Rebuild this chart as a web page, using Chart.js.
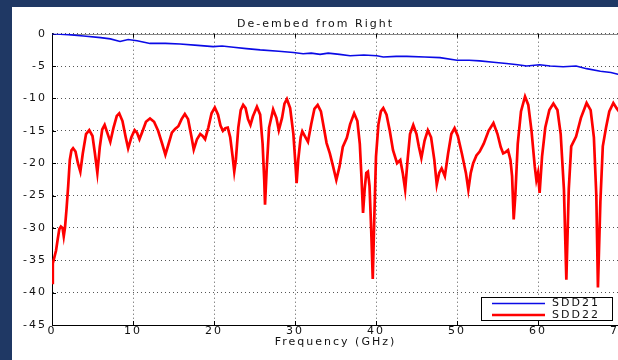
<!DOCTYPE html>
<html>
<head>
<meta charset="utf-8">
<script src="https://cdn.jsdelivr.net/npm/chart.js@4.4.0/dist/chart.umd.min.js"></script>
<style>
  html, body { margin: 0; padding: 0; width: 618px; height: 360px; overflow: hidden; background: #1f3864; }
  #wrap { position: absolute; left: 12px; top: 7px; width: 630px; height: 353px; background: #fff; }
</style>
</head>
<body>
<div id="wrap"><canvas id="chart"></canvas></div>
<script>
// SDD21 (insertion loss)
const sdd21Freq = [0, 2, 3.9, 6, 7.2, 8.4, 9.4, 10.5, 12.1, 14, 15.8, 18, 19.9, 21, 22.4, 24, 25.7, 28, 29.8,
  31, 32, 33.1, 34.1, 35.5, 36.8, 38.5, 40.1, 40.9, 42.5, 43.8, 46, 47.9, 50, 51.5, 52.8, 54.5, 56.1,
  57.5, 58.6, 60.2, 61.5, 63.1, 64.7, 66, 67.7, 69, 70];
const sdd21 = [0, -0.15, -0.35, -0.6, -0.8, -1.2, -0.9, -1.1, -1.5, -1.5, -1.6, -1.8, -2.0, -1.9, -2.1, -2.3, -2.5, -2.7, -2.9,
  -3.1, -3.0, -3.2, -3.0, -3.2, -3.4, -3.3, -3.4, -3.6, -3.5, -3.5, -3.6, -3.7, -4.1, -4.1, -4.2, -4.4, -4.6,
  -4.8, -5.0, -4.8, -5.0, -5.1, -5.0, -5.4, -5.8, -6.0, -6.3];

// SDD22 (return loss)
const sdd22Freq = [0, 0.1, 0.3, 0.5, 0.7, 0.9, 1.1, 1.3, 1.45, 1.6, 1.8, 2.0, 2.2, 2.4, 2.6, 2.9, 3.2, 3.5, 3.8,
  4.2, 4.6, 5.0, 5.3, 5.6, 5.9, 6.2, 6.5, 6.8, 7.2, 7.6, 8.0, 8.3, 8.7, 9.1, 9.4, 9.8, 10.2, 10.5, 10.8,
  11.2, 11.6, 12.1, 12.6, 13.1, 13.6, 14.0, 14.4, 14.8, 15.2, 15.6, 16.0, 16.4, 16.8, 17.2, 17.5, 17.9,
  18.3, 18.6, 18.9, 19.3, 19.7, 20.1, 20.5, 20.8, 21.1, 21.4, 21.7, 22.0, 22.3, 22.5, 22.7, 23.0, 23.3,
  23.6, 23.9, 24.2, 24.5, 24.8, 25.3, 25.7, 26.0, 26.2, 26.3, 26.5, 26.8, 27.3, 27.7, 28.0, 28.4, 28.7,
  29.0, 29.4, 29.8, 30.1, 30.2, 30.4, 30.7, 30.9, 31.2, 31.6, 32.0, 32.4, 32.8, 33.2, 33.6, 33.9, 34.3,
  34.7, 35.1, 35.5, 35.9, 36.4, 36.8, 37.3, 37.7, 38.0, 38.2, 38.4, 38.6, 38.8, 39.0, 39.2, 39.4, 39.6,
  39.8, 40.0, 40.3, 40.6, 40.9, 41.3, 41.7, 42.1, 42.6, 43.0, 43.3, 43.6, 43.9, 44.2, 44.6, 45.0, 45.3,
  45.6, 46.0, 46.4, 46.8, 47.2, 47.5, 47.8, 48.1, 48.5, 48.9, 49.3, 49.7, 50.1, 50.6, 51.1, 51.4, 51.7,
  52.0, 52.4, 52.8, 53.3, 53.9, 54.5, 55.0, 55.4, 55.7, 56.0, 56.3, 56.6, 56.8, 57.0, 57.2, 57.5, 57.9,
  58.4, 58.8, 59.2, 59.6, 59.8, 60.0, 60.2, 60.5, 60.9, 61.4, 61.9, 62.4, 62.8, 63.2, 63.5, 63.8, 64.1,
  64.7, 65.3, 66.0, 66.5, 66.9, 67.2, 67.4, 67.7, 68.0, 68.4, 68.8, 69.3, 69.7, 70.0];
const sdd22 = [-38.5, -35.5, -34.5, -33.5, -31.8, -30.2, -29.8, -30.0, -31.3, -30.0, -27, -23.5, -19.5, -18.0, -17.7, -18.2, -20.0, -21.3, -18.5,
  -15.5, -14.9, -15.8, -18.5, -21.5, -17.5, -14.8, -14.1, -15.2, -16.7, -14.5, -12.7, -12.3, -13.5, -16.0, -17.7, -16.0, -14.9, -15.3, -16.3,
  -15.0, -13.6, -13.1, -13.6, -15.0, -17.0, -18.7, -17.0, -15.3, -14.7, -14.3, -13.2, -12.4, -13.2, -15.8, -17.9, -16.3,
  -15.5, -15.8, -16.3, -14.5, -12.3, -11.4, -12.5, -14.2, -15.0, -14.6, -14.5, -16.0, -19.0, -21.3, -19.5, -14.5, -11.8,
  -11.0, -11.5, -13.2, -14.1, -12.8, -11.3, -12.5, -17.0, -22.5, -26.4, -21.0, -14.5, -11.7, -13.0, -14.9, -13.0, -10.8,
  -10.1, -11.5, -15.5, -21.0, -23.1, -19.5, -16.0, -15.1, -15.8, -16.7, -14.0, -11.6, -11.0, -12.0, -14.8, -16.9, -18.5,
  -20.5, -22.6, -20.5, -17.5, -16.1, -14.0, -12.3, -13.5, -17.0, -22.0, -27.7, -24.0, -21.5, -21.3, -23.5, -30.0, -37.9,
  -28.0, -19.0, -14.0, -12.0, -11.5, -12.5, -15.0, -18.0, -20.0, -19.5, -21.5, -24.1, -19.5, -15.5, -14.1, -15.5, -17.5,
  -19.2, -16.5, -14.9, -16.0, -19.5, -23.3, -21.5, -20.8, -22.0, -18.5, -15.5, -14.6, -15.8, -18.5, -21.5, -24.1, -21.5,
  -20.0, -18.8, -18.2, -17.0, -15.0, -13.8, -15.5, -17.5, -18.5, -18.3, -18.0, -19.5, -22.0, -28.7, -25.0, -17.0, -12.0,
  -9.7, -11.0, -15.0, -20.5, -22.6, -21.5, -24.6, -19.0, -14.5, -11.8, -10.8, -11.8, -15.5, -24.0, -38.0, -24.0, -17.4,
  -15.9, -13.0, -10.7, -11.8, -16.0, -25.0, -39.2, -26.0, -17.4, -14.5, -12.0, -10.7, -11.5, -12.0];

const FONT = 'DejaVu Sans';
const SPACING = '2px';

// canvas resets letterSpacing on resize, so set it every draw
const textSpacing = {
  id: 'textSpacing',
  beforeUpdate(chart) { chart.ctx.letterSpacing = SPACING; },
  beforeDraw(chart) { chart.ctx.letterSpacing = SPACING; }
};

// top border line and inward tick marks, like matlab's box
const boxTicks = {
  id: 'boxTicks',
  beforeDatasetsDraw(chart) {
    const { ctx, chartArea: a, scales: { x, y } } = chart;
    ctx.save();
    ctx.lineWidth = 1;
    ctx.strokeStyle = '#888';
    ctx.beginPath();
    ctx.moveTo(a.left, Math.round(a.top) + 0.5);
    ctx.lineTo(a.right, Math.round(a.top) + 0.5);
    ctx.stroke();
    ctx.strokeStyle = '#000';
    ctx.beginPath();
    x.ticks.forEach(t => {
      const px = Math.round(x.getPixelForValue(t.value)) + 0.5;
      ctx.moveTo(px, a.bottom); ctx.lineTo(px, a.bottom - 4);
      ctx.moveTo(px, a.top); ctx.lineTo(px, a.top + 4);
    });
    y.ticks.forEach(t => {
      const py = Math.round(y.getPixelForValue(t.value)) + 0.5;
      ctx.moveTo(a.left, py); ctx.lineTo(a.left + 4, py);
    });
    ctx.stroke();
    ctx.restore();
  }
};

// legend box inside the plot, bottom right
const insideLegend = {
  id: 'insideLegend',
  afterDraw(chart) {
    const { ctx, chartArea: a } = chart;
    const w = 132, h = 24;
    const bx = a.right - 6 - w, by = a.bottom - 4 - h;
    ctx.save();
    ctx.fillStyle = '#fff';
    ctx.fillRect(bx, by, w, h);
    ctx.strokeStyle = '#000';
    ctx.lineWidth = 1;
    ctx.strokeRect(Math.round(bx) + 0.5, Math.round(by) + 0.5, w - 1, h - 1);
    ctx.font = '11px "' + FONT + '"';
    ctx.letterSpacing = SPACING;
    ctx.textBaseline = 'middle';
    ctx.textAlign = 'left';
    chart.data.datasets.forEach((ds, i) => {
      const ly = by + 6.5 + i * 11.5;
      ctx.strokeStyle = ds.borderColor;
      ctx.lineWidth = ds.borderWidth;
      ctx.beginPath();
      ctx.moveTo(bx + 11, ly);
      ctx.lineTo(bx + 64, ly);
      ctx.stroke();
      ctx.fillStyle = '#111';
      ctx.fillText(ds.label, bx + 71, ly);
    });
    ctx.restore();
  }
};

new Chart(document.getElementById('chart'), {
  type: 'line',
  data: {
    datasets: [
      {
        label: 'SDD21',
        data: sdd21Freq.map((f, i) => ({ x: f, y: sdd21[i] })),
        borderColor: '#0a0ae6',
        borderWidth: 1.6,
        pointRadius: 0,
        tension: 0
      },
      {
        label: 'SDD22',
        data: sdd22Freq.map((f, i) => ({ x: f, y: sdd22[i] })),
        borderColor: '#ff0000',
        borderWidth: 2.7,
        pointRadius: 0,
        tension: 0
      }
    ]
  },
  options: {
    responsive: true,
    maintainAspectRatio: false,
    animation: false,
    layout: { padding: { left: 0, right: 23, top: 0, bottom: 0 } },
    plugins: {
      legend: { display: false },
      tooltip: { enabled: false },
      title: {
        display: true,
        text: 'De-embed from Right',
        color: '#111',
        font: { family: FONT, size: 11, weight: 'normal', lineHeight: 1.2 },
        padding: { top: 11, bottom: 2.5 }
      }
    },
    scales: {
      x: {
        type: 'linear',
        min: 0,
        max: 70,
        afterFit: s => { s.height = 35; },
        ticks: { stepSize: 10, color: '#111', padding: 0, maxRotation: 0,
          font: { family: FONT, size: 11 } },
        grid: { color: '#555', lineWidth: 1, drawTicks: false },
        border: { display: true, color: '#000', width: 1, dash: [1, 3] },
        title: { display: true, text: 'Frequency (GHz)', color: '#111',
          font: { family: FONT, size: 11 }, padding: { top: 0, bottom: 11.4 } }
      },
      y: {
        min: -45,
        max: 0,
        afterFit: s => { s.width = 40; },
        ticks: { stepSize: 5, color: '#111', padding: 5,
          font: { family: FONT, size: 11 } },
        grid: { color: '#555', lineWidth: 1, drawTicks: false },
        border: { display: true, color: '#000', width: 1, dash: [1, 3] }
      }
    }
  },
  plugins: [textSpacing, boxTicks, insideLegend]
});
</script>
</body>
</html>
